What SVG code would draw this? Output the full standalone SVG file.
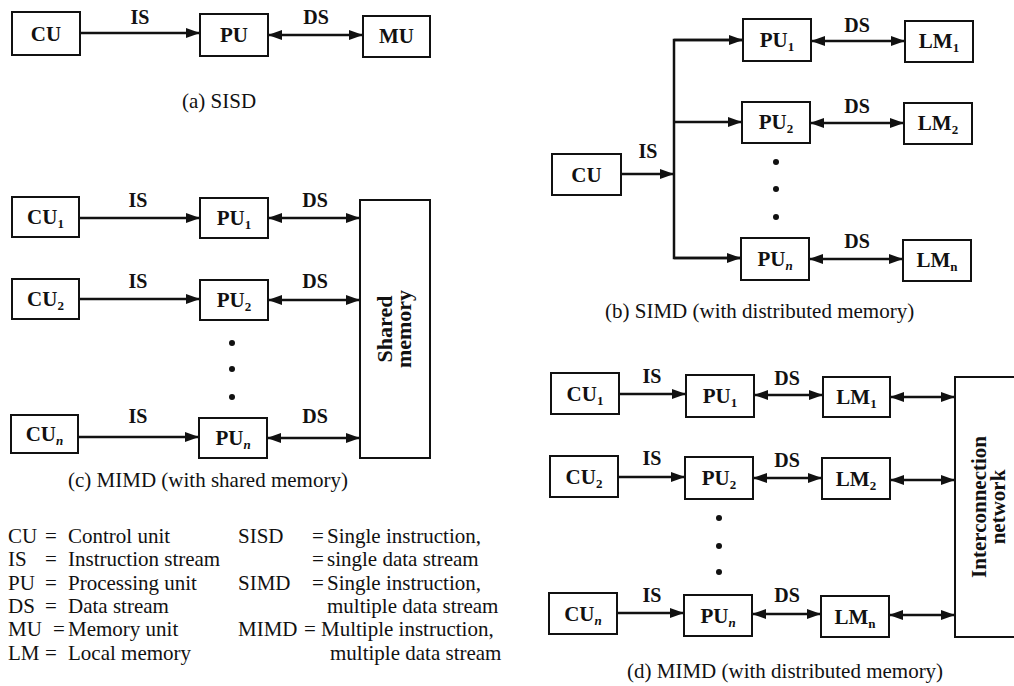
<svg xmlns="http://www.w3.org/2000/svg" width="1014" height="686" viewBox="0 0 1014 686">
<style>
.box{fill:#fff;stroke:#111;stroke-width:2}
.ln{fill:none;stroke:#111;stroke-width:2.5}
.one{marker-end:url(#ah)}
.two{marker-end:url(#ah);marker-start:url(#ah)}
.lb{font-family:"Liberation Serif","Times New Roman",serif;font-weight:bold;font-size:21px;fill:#111;text-anchor:middle}
.cl{font-size:20px}
.vt{font-size:22px}
.tx{font-family:"Liberation Serif","Times New Roman",serif;font-size:21px;fill:#111}
.sub{font-size:13px}
.it{font-style:italic}
.dot{fill:#111}
</style>
<defs>
<marker id="ah" markerUnits="userSpaceOnUse" markerWidth="14" markerHeight="10" refX="14" refY="5" orient="auto-start-reverse">
<path d="M0,0 L14,5 L0,10 z" fill="#111"/>
</marker>
</defs>
<rect width="1014" height="686" fill="#fff"/>

<g id="connectors">
<line class="ln one" x1="80" y1="33" x2="200" y2="33"/>
<line class="ln two" x1="268" y1="35" x2="363" y2="35"/>
<line class="ln one" x1="621" y1="174" x2="674" y2="174"/>
<path class="ln" d="M743,40 H674 V258 H741"/>
<line class="ln one" x1="674" y1="40" x2="743" y2="40"/>
<line class="ln one" x1="674" y1="122" x2="742" y2="122"/>
<line class="ln one" x1="674" y1="258" x2="741" y2="258"/>
<line class="ln two" x1="811" y1="41" x2="905" y2="41"/>
<line class="ln two" x1="810" y1="123" x2="904" y2="123"/>
<line class="ln two" x1="809" y1="259" x2="903" y2="259"/>
<line class="ln one" x1="79" y1="218" x2="200" y2="218"/>
<line class="ln one" x1="79" y1="299" x2="200" y2="299"/>
<line class="ln one" x1="78" y1="437" x2="199" y2="437"/>
<line class="ln two" x1="268" y1="218" x2="360" y2="218"/>
<line class="ln two" x1="268" y1="300" x2="360" y2="300"/>
<line class="ln two" x1="267" y1="438" x2="360" y2="438"/>
<line class="ln one" x1="619" y1="394" x2="686" y2="394"/>
<line class="ln two" x1="754" y1="395" x2="823" y2="395"/>
<line class="ln two" x1="890" y1="397" x2="955" y2="397"/>
<line class="ln one" x1="618" y1="477" x2="685" y2="477"/>
<line class="ln two" x1="753" y1="478" x2="822" y2="478"/>
<line class="ln two" x1="890" y1="480" x2="955" y2="480"/>
<line class="ln one" x1="617" y1="613" x2="684" y2="613"/>
<line class="ln two" x1="752" y1="614" x2="821" y2="614"/>
<line class="ln two" x1="889" y1="615" x2="955" y2="615"/>
</g>

<g id="connector-labels">
<text class="lb cl" x="140" y="24">IS</text>
<text class="lb cl" x="316" y="24">DS</text>
<text class="lb cl" x="648" y="158">IS</text>
<text class="lb cl" x="857" y="32">DS</text>
<text class="lb cl" x="857" y="113">DS</text>
<text class="lb cl" x="857" y="248">DS</text>
<text class="lb cl" x="138" y="207">IS</text>
<text class="lb cl" x="138" y="288">IS</text>
<text class="lb cl" x="138" y="423">IS</text>
<text class="lb cl" x="315" y="207">DS</text>
<text class="lb cl" x="315" y="288">DS</text>
<text class="lb cl" x="315" y="423">DS</text>
<text class="lb cl" x="652" y="383">IS</text>
<text class="lb cl" x="652" y="465">IS</text>
<text class="lb cl" x="652" y="602">IS</text>
<text class="lb cl" x="787" y="385">DS</text>
<text class="lb cl" x="787" y="467">DS</text>
<text class="lb cl" x="787" y="602">DS</text>
</g>

<g id="a-cu"><rect class="box" x="12" y="12" width="68" height="43"/><text class="lb" x="46" y="41">CU</text></g>
<g id="a-pu"><rect class="box" x="200" y="14" width="68" height="42"/><text class="lb" x="234" y="42">PU</text></g>
<g id="a-mu"><rect class="box" x="363" y="16" width="67" height="41"/><text class="lb" x="396.5" y="43">MU</text></g>

<g id="b-cu"><rect class="box" x="552" y="154" width="69" height="41"/><text class="lb" x="586.5" y="182">CU</text></g>
<g id="b-pu1"><rect class="box" x="743" y="19" width="68" height="42"/><text class="lb" x="777" y="47">PU<tspan class="sub" dy="4">1</tspan></text></g>
<g id="b-pu2"><rect class="box" x="742" y="102" width="68" height="41"/><text class="lb" x="776" y="129">PU<tspan class="sub" dy="4">2</tspan></text></g>
<g id="b-pun"><rect class="box" x="741" y="238" width="68" height="42"/><text class="lb" x="775" y="266">PU<tspan class="sub it" dy="4">n</tspan></text></g>
<g id="b-lm1"><rect class="box" x="905" y="21" width="68" height="41"/><text class="lb" x="939" y="48">LM<tspan class="sub" dy="4">1</tspan></text></g>
<g id="b-lm2"><rect class="box" x="904" y="103" width="68" height="41"/><text class="lb" x="938" y="130">LM<tspan class="sub" dy="4">2</tspan></text></g>
<g id="b-lmn"><rect class="box" x="903" y="240" width="68" height="41"/><text class="lb" x="937" y="267">LM<tspan class="sub" dy="4">n</tspan></text></g>
<g id="b-dots"><circle class="dot" cx="776" cy="162" r="3"/><circle class="dot" cx="776" cy="189" r="3"/><circle class="dot" cx="776" cy="217" r="3"/></g>

<g id="c-cu1"><rect class="box" x="12" y="197" width="67" height="40"/><text class="lb" x="45.5" y="224">CU<tspan class="sub" dy="4">1</tspan></text></g>
<g id="c-pu1"><rect class="box" x="200" y="198" width="68" height="40"/><text class="lb" x="234" y="225">PU<tspan class="sub" dy="4">1</tspan></text></g>
<g id="c-cu2"><rect class="box" x="12" y="279" width="67" height="40"/><text class="lb" x="45.5" y="306">CU<tspan class="sub" dy="4">2</tspan></text></g>
<g id="c-pu2"><rect class="box" x="200" y="280" width="68" height="40"/><text class="lb" x="234" y="307">PU<tspan class="sub" dy="4">2</tspan></text></g>
<g id="c-cun"><rect class="box" x="11" y="415" width="67" height="38"/><text class="lb" x="44.5" y="441">CU<tspan class="sub it" dy="4">n</tspan></text></g>
<g id="c-pun"><rect class="box" x="199" y="418" width="68" height="40"/><text class="lb" x="233" y="445">PU<tspan class="sub it" dy="4">n</tspan></text></g>
<g id="c-dots"><circle class="dot" cx="232" cy="343" r="3"/><circle class="dot" cx="232" cy="369" r="3"/><circle class="dot" cx="232" cy="397" r="3"/></g>
<g id="c-shared"><rect class="box" x="360" y="200" width="70" height="258"/>
<text class="lb vt" transform="translate(395,329) rotate(-90)" x="0" y="-3">Shared</text>
<text class="lb vt" transform="translate(395,329) rotate(-90)" x="0" y="16">memory</text></g>

<g id="d-cu1"><rect class="box" x="551" y="373" width="68" height="41"/><text class="lb" x="585" y="401">CU<tspan class="sub" dy="4">1</tspan></text></g>
<g id="d-pu1"><rect class="box" x="686" y="375" width="68" height="42"/><text class="lb" x="720" y="403">PU<tspan class="sub" dy="4">1</tspan></text></g>
<g id="d-lm1"><rect class="box" x="823" y="377" width="67" height="40"/><text class="lb" x="856.5" y="404">LM<tspan class="sub" dy="4">1</tspan></text></g>
<g id="d-cu2"><rect class="box" x="550" y="456" width="68" height="41"/><text class="lb" x="584" y="484">CU<tspan class="sub" dy="4">2</tspan></text></g>
<g id="d-pu2"><rect class="box" x="685" y="457" width="68" height="42"/><text class="lb" x="719" y="485">PU<tspan class="sub" dy="4">2</tspan></text></g>
<g id="d-lm2"><rect class="box" x="822" y="458" width="68" height="41"/><text class="lb" x="856" y="486">LM<tspan class="sub" dy="4">2</tspan></text></g>
<g id="d-cun"><rect class="box" x="549" y="593" width="68" height="41"/><text class="lb" x="583" y="621">CU<tspan class="sub it" dy="4">n</tspan></text></g>
<g id="d-pun"><rect class="box" x="684" y="595" width="68" height="41"/><text class="lb" x="718" y="623">PU<tspan class="sub it" dy="4">n</tspan></text></g>
<g id="d-lmn"><rect class="box" x="821" y="596" width="68" height="41"/><text class="lb" x="855" y="624">LM<tspan class="sub" dy="4">n</tspan></text></g>
<g id="d-dots"><circle class="dot" cx="719" cy="518" r="3"/><circle class="dot" cx="719" cy="546" r="3"/><circle class="dot" cx="719" cy="572" r="3"/></g>
<g id="d-net"><rect class="box" x="955" y="377" width="70" height="260"/>
<text class="lb" transform="translate(985,507) rotate(-90)" x="0" y="1">Interconnection</text>
<text class="lb" transform="translate(985,507) rotate(-90)" x="0" y="20">network</text></g>

<g id="captions">
<text class="tx" x="182" y="108">(a) SISD</text>
<text class="tx" x="605" y="318">(b) SIMD (with distributed memory)</text>
<text class="tx" x="68" y="487">(c) MIMD (with shared memory)</text>
<text class="tx" x="627" y="678">(d) MIMD (with distributed memory)</text>
</g>

<g id="legend">
<text class="tx" x="8" y="543">CU</text><text class="tx" x="45" y="543">=</text><text class="tx" x="68" y="543">Control unit</text>
<text class="tx" x="8" y="566.3">IS</text><text class="tx" x="45" y="566.3">=</text><text class="tx" x="68" y="566.3">Instruction stream</text>
<text class="tx" x="8" y="589.6">PU</text><text class="tx" x="45" y="589.6">=</text><text class="tx" x="68" y="589.6">Processing unit</text>
<text class="tx" x="8" y="612.9">DS</text><text class="tx" x="45" y="612.9">=</text><text class="tx" x="68" y="612.9">Data stream</text>
<text class="tx" x="8" y="636.2">MU</text><text class="tx" x="53" y="636.2">=</text><text class="tx" x="68" y="636.2">Memory unit</text>
<text class="tx" x="8" y="659.5">LM</text><text class="tx" x="45" y="659.5">=</text><text class="tx" x="68" y="659.5">Local memory</text>
<text class="tx" x="238" y="543">SISD</text><text class="tx" x="312" y="543">=</text><text class="tx" x="327" y="543">Single instruction,</text>
<text class="tx" x="312" y="566.3">=</text><text class="tx" x="327" y="566.3">single data stream</text>
<text class="tx" x="238" y="589.6">SIMD</text><text class="tx" x="312" y="589.6">=</text><text class="tx" x="327" y="589.6">Single instruction,</text>
<text class="tx" x="327" y="612.9">multiple data stream</text>
<text class="tx" x="238" y="636.2">MIMD</text><text class="tx" x="304" y="636.2">=</text><text class="tx" x="321" y="636.2">Multiple instruction,</text>
<text class="tx" x="330" y="659.5">multiple data stream</text>
</g>
</svg>
